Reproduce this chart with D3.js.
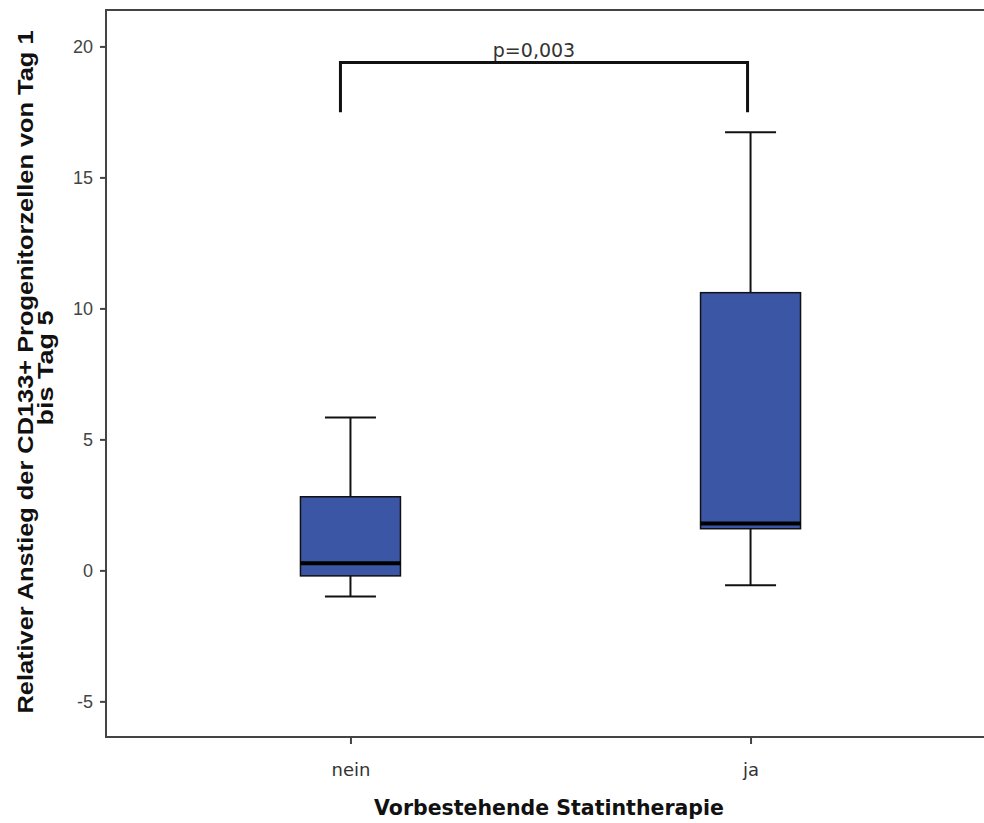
<!DOCTYPE html>
<html><head><meta charset="utf-8">
<script src="https://d3js.org/d3.v7.min.js"></script>
<style>body{margin:0;background:#fff}svg{display:block}</style>
</head><body>
<script>
const categories = ["nein", "ja"];
const whiskerLow = [-1.0, -0.57];
const q1 = [-0.21, 1.59];
const median = [0.27, 1.79];
const q3 = [2.81, 10.6];
const whiskerHigh = [5.84, 16.72];
const yTicks = [-5, 0, 5, 10, 15, 20];
const pLabel = "p=0,003";
const bracketLow = 17.49, bracketHigh = 19.39;

const W = 984, H = 823;
const svg = d3.select("body").append("svg").attr("width", W).attr("height", H);

const y = d3.scaleLinear().domain([-6.36, 21.39]).range([737, 10]);
const x = d3.scalePoint().domain(categories).range([106, 995]).padding(0.611);
const boxW = 100, capW = 51;

// frame
svg.append("rect").attr("x", 106).attr("y", 10).attr("width", 1000).attr("height", 727)
  .attr("fill", "none").attr("stroke", "#444").attr("stroke-width", 2);

// y axis
const ya = svg.append("g").attr("transform", "translate(106,0)")
  .call(d3.axisLeft(y).tickValues(yTicks).tickFormat(d => String(d)).tickSize(6).tickPadding(7));
ya.select(".domain").remove();
ya.selectAll(".tick line").attr("stroke", "#444").attr("stroke-width", 2);
ya.selectAll(".tick text").attr("fill", "#444").attr("dy", "0.36em")
  .style("font-family", "Liberation Sans, Arial, sans-serif").style("font-size", "18px");

// x axis
const xa = svg.append("g").attr("transform", "translate(0,737)")
  .call(d3.axisBottom(x).tickSize(7).tickPadding(0));
xa.select(".domain").remove();
xa.selectAll(".tick line").attr("stroke", "#444").attr("stroke-width", 2);
xa.selectAll(".tick text").attr("fill", "#333").attr("y", 39).attr("dy", 0)
  .style("font-family", "DejaVu Sans, sans-serif").style("font-size", "18px");

// boxes
const data = categories.map((c, i) => ({c, lo: whiskerLow[i], q1: q1[i], med: median[i], q3: q3[i], hi: whiskerHigh[i]}));
const g = svg.append("g");
data.forEach(d => {
  const cx = x(d.c);
  g.append("line").attr("x1", cx).attr("x2", cx).attr("y1", y(d.hi)).attr("y2", y(d.q3)).attr("stroke", "#111").attr("stroke-width", 2);
  g.append("line").attr("x1", cx).attr("x2", cx).attr("y1", y(d.q1)).attr("y2", y(d.lo)).attr("stroke", "#111").attr("stroke-width", 2);
  g.append("line").attr("x1", cx - capW/2).attr("x2", cx + capW/2).attr("y1", y(d.hi)).attr("y2", y(d.hi)).attr("stroke", "#111").attr("stroke-width", 2);
  g.append("line").attr("x1", cx - capW/2).attr("x2", cx + capW/2).attr("y1", y(d.lo)).attr("y2", y(d.lo)).attr("stroke", "#111").attr("stroke-width", 2);
  g.append("rect").attr("x", cx - boxW/2).attr("y", y(d.q3)).attr("width", boxW).attr("height", y(d.q1) - y(d.q3))
    .attr("fill", "#3c56a6").attr("stroke", "#111").attr("stroke-width", 1.5);
  g.append("line").attr("x1", cx - boxW/2).attr("x2", cx + boxW/2).attr("y1", y(d.med)).attr("y2", y(d.med)).attr("stroke", "#000").attr("stroke-width", 4);
});

// significance bracket
const bx1 = x("nein") - 10, bx2 = x("ja") - 3;
svg.append("path")
  .attr("d", `M${bx1},${y(bracketLow)}V${y(bracketHigh)}H${bx2}V${y(bracketLow)}`)
  .attr("fill", "none").attr("stroke", "#111").attr("stroke-width", 3);
svg.append("text").attr("x", (bx1 + bx2) / 2 - 10).attr("y", y(bracketHigh) - 5)
  .attr("text-anchor", "middle").attr("fill", "#333")
  .style("font-family", "DejaVu Sans, sans-serif").style("font-size", "19px").text(pLabel);

// axis titles
svg.append("text").attr("x", 549).attr("y", 815).attr("text-anchor", "middle")
  .style("font-family", "DejaVu Sans, sans-serif").style("font-weight", "bold").style("font-size", "20.5px").attr("fill", "#111")
  .text("Vorbestehende Statintherapie");
const ytStyle = sel => sel.attr("text-anchor", "middle")
  .style("font-family", "Liberation Sans, Arial, sans-serif").style("font-weight", "bold").style("font-size", "22px").attr("fill", "#111");
svg.append("text").attr("transform", "translate(33,372) rotate(-90)").call(ytStyle)
  .attr("textLength", 683).attr("lengthAdjust", "spacingAndGlyphs")
  .text("Relativer Anstieg der CD133+ Progenitorzellen von Tag 1");
svg.append("text").attr("transform", "translate(53,368) rotate(-90)").call(ytStyle)
  .attr("textLength", 115).attr("lengthAdjust", "spacingAndGlyphs")
  .text("bis Tag 5");
</script>
</body></html>
